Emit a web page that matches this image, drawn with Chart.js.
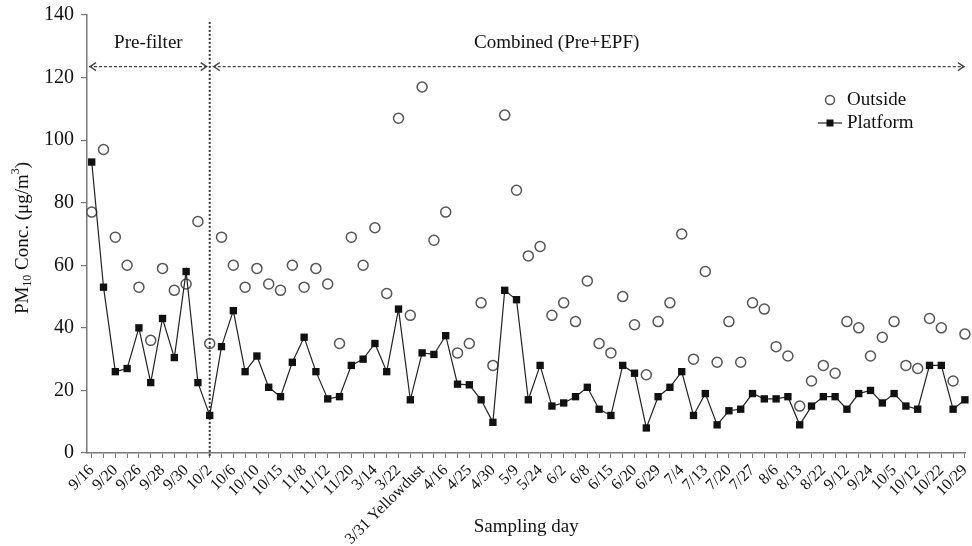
<!DOCTYPE html>
<html>
<head>
<meta charset="utf-8">
<script src="https://cdn.jsdelivr.net/npm/chart.js@4.4.1/dist/chart.umd.min.js"></script>
<style>
  html, body { margin: 0; padding: 0; background: #fff; }
</style>
</head>
<body>
<canvas id="chart" width="972" height="546"></canvas>
<script>
// tick labels shown on every other sampling day
const tickLabels = ['9/16', '9/20', '9/26', '9/28', '9/30', '10/2', '10/6', '10/10', '10/15', '11/8',
  '11/12', '11/20', '3/14', '3/22', '3/31 Yellowdust', '4/16', '4/25', '4/30', '5/9', '5/24',
  '6/2', '6/8', '6/15', '6/20', '6/29', '7/4', '7/13', '7/20', '7/27', '8/6',
  '8/13', '8/22', '9/12', '9/24', '10/5', '10/12', '10/22', '10/29'];

// PM10 (ug/m3), one value per sampling day
const outside = [77, 97, 69, 60, 53, 36, 59, 52, 54, 74,
  35, 69, 60, 53, 59, 54, 52, 60, 53, 59,
  54, 35, 69, 60, 72, 51, 107, 44, 117, 68,
  77, 32, 35, 48, 28, 108, 84, 63, 66, 44,
  48, 42, 55, 35, 32, 50, 41, 25, 42, 48,
  70, 30, 58, 29, 42, 29, 48, 46, 34, 31,
  15, 23, 28, 25.5, 42, 40, 31, 37, 42, 28,
  27, 43, 40, 23, 38];
const platform = [93, 53, 26, 27, 40, 22.5, 43, 30.5, 58, 22.5,
  12, 34, 45.5, 26, 31, 21, 18, 29, 37, 26,
  17.3, 18, 28, 30, 35, 26, 46, 17, 32, 31.5,
  37.5, 22, 21.8, 17, 9.8, 52, 49, 17, 28, 15,
  16, 18, 21, 14, 12, 28, 25.5, 8, 18, 21,
  26, 12, 19, 9, 13.5, 14, 19, 17.3, 17.3, 18,
  9, 15, 18, 18, 14, 19, 20, 16, 19, 15,
  14, 28, 28, 14, 17];

const splitIndex = 10;      // 10/2 - EPF switched on after this day
const serif = "'Liberation Serif', 'Times New Roman', serif";

const days = outside.map((_, i) => i);

function dashedArrow(ctx, x1, x2, y) {
  ctx.setLineDash([3, 2]);
  ctx.beginPath(); ctx.moveTo(x1, y); ctx.lineTo(x2, y); ctx.stroke();
  ctx.setLineDash([]);
  ctx.beginPath();
  ctx.moveTo(x1 + 7, y - 4); ctx.lineTo(x1 + 1, y); ctx.lineTo(x1 + 7, y + 4);
  ctx.moveTo(x2 - 7, y - 4); ctx.lineTo(x2 - 1, y); ctx.lineTo(x2 - 7, y + 4);
  ctx.stroke();
}

const annotations = {
  id: 'annotations',
  beforeDatasetsDraw(chart) {
    const { ctx, chartArea, scales: { x, y } } = chart;
    const xs = x.getPixelForValue(splitIndex);
    ctx.save();
    ctx.strokeStyle = '#333';
    ctx.lineWidth = 2;
    ctx.setLineDash([2, 2]);
    ctx.beginPath();
    ctx.moveTo(xs, y.getPixelForValue(137.8));
    ctx.lineTo(xs, chartArea.bottom + 3);
    ctx.stroke();

    const ay = y.getPixelForValue(123.5);
    ctx.strokeStyle = '#444';
    ctx.lineWidth = 1.3;
    dashedArrow(ctx, chartArea.left + 2, xs - 2, ay);
    dashedArrow(ctx, xs + 3, x.getPixelForValue(74), ay);

    ctx.fillStyle = '#111';
    ctx.font = `19px ${serif}`;
    ctx.textAlign = 'center';
    ctx.textBaseline = 'middle';
    const ty = y.getPixelForValue(131);
    ctx.fillText('Pre-filter', (chartArea.left + xs) / 2, ty);
    ctx.fillText('Combined (Pre+EPF)', x.getPixelForValue(39.4), ty);
    ctx.restore();
  },
  afterDraw(chart) {
    const { ctx, chartArea } = chart;
    ctx.save();
    ctx.fillStyle = '#111';
    ctx.textBaseline = 'middle';

    // legend
    const lx = 830, ly1 = 100, ly2 = 123;
    ctx.strokeStyle = '#555';
    ctx.lineWidth = 1.5;
    ctx.beginPath(); ctx.arc(lx, ly1, 4.5, 0, Math.PI * 2); ctx.stroke();
    ctx.strokeStyle = '#222';
    ctx.lineWidth = 1.2;
    ctx.beginPath(); ctx.moveTo(lx - 12, ly2); ctx.lineTo(lx + 12, ly2); ctx.stroke();
    ctx.fillRect(lx - 3.5, ly2 - 3.5, 7, 7);
    ctx.font = `19px ${serif}`;
    ctx.textAlign = 'left';
    ctx.fillText('Outside', 847, ly1);
    ctx.fillText('Platform', 847, ly2);

    // x axis title
    ctx.textAlign = 'center';
    ctx.fillText('Sampling day', (chartArea.left + chartArea.right) / 2, 527);

    // y axis title with sub/superscript
    const parts = [['PM', 19, 0], ['10', 12, 5], [' Conc. (\u03bcg/m', 19, 0], ['3', 12, -7], [')', 19, 0]];
    let total = 0;
    parts.forEach(p => { ctx.font = `${p[1]}px ${serif}`; total += ctx.measureText(p[0]).width; });
    ctx.translate(23, (chartArea.top + chartArea.bottom) / 2 + 4);
    ctx.rotate(-Math.PI / 2);
    ctx.textAlign = 'left';
    let cx = -total / 2;
    parts.forEach(p => {
      ctx.font = `${p[1]}px ${serif}`;
      ctx.fillText(p[0], cx, p[2]);
      cx += ctx.measureText(p[0]).width;
    });
    ctx.restore();
  }
};

new Chart(document.getElementById('chart'), {
  type: 'line',
  data: {
    datasets: [
      {
        label: 'Platform',
        data: days.map(i => ({ x: i, y: platform[i] })),
        borderColor: '#222',
        borderWidth: 1.2,
        backgroundColor: '#111',
        pointStyle: 'rect',
        pointRadius: 5.2,
        pointBorderWidth: 0,
        tension: 0,
        clip: false
      },
      {
        label: 'Outside',
        data: days.map(i => ({ x: i, y: outside[i] })),
        showLine: false,
        borderColor: '#555',
        backgroundColor: 'rgba(255,255,255,0)',
        pointStyle: 'circle',
        pointRadius: 5,
        pointBorderWidth: 1.5,
        clip: false
      }
    ]
  },
  options: {
    responsive: false,
    animation: false,
    devicePixelRatio: 1,
    layout: { padding: { top: 15, right: 2, bottom: 0, left: 0 } },
    plugins: { legend: { display: false }, tooltip: { enabled: false } },
    scales: {
      x: {
        type: 'linear',
        min: -0.4,
        max: 74.05,
        afterBuildTicks: s => { s.ticks = days.map(i => ({ value: i })); },
        afterFit: s => { s.height = 93; s.paddingLeft = 0; s.paddingRight = 0; },
        ticks: {
          autoSkip: false,
          maxTicksLimit: 200,
          minRotation: 45,
          maxRotation: 45,
          padding: 3,
          color: '#111',
          font: { family: serif, size: 16 },
          callback: v => (v % 2 === 0 ? tickLabels[v / 2] : '')
        },
        grid: { display: true, drawOnChartArea: false, drawTicks: true, tickLength: 5, color: '#777', lineWidth: 1 },
        border: { display: true, color: '#777', width: 1.5 },
        title: { display: false }
      },
      y: {
        min: 0,
        max: 140,
        afterFit: s => { s.width = 87; s.paddingTop = 0; s.paddingBottom = 0; },
        ticks: {
          stepSize: 20,
          padding: 7,
          color: '#111',
          font: { family: serif, size: 20 }
        },
        grid: { display: true, drawOnChartArea: false, drawTicks: true, tickLength: 6, color: '#777', lineWidth: 1.2 },
        border: { display: true, color: '#777', width: 1.5 },
        title: { display: false }
      }
    }
  },
  plugins: [annotations]
});
</script>
</body>
</html>
